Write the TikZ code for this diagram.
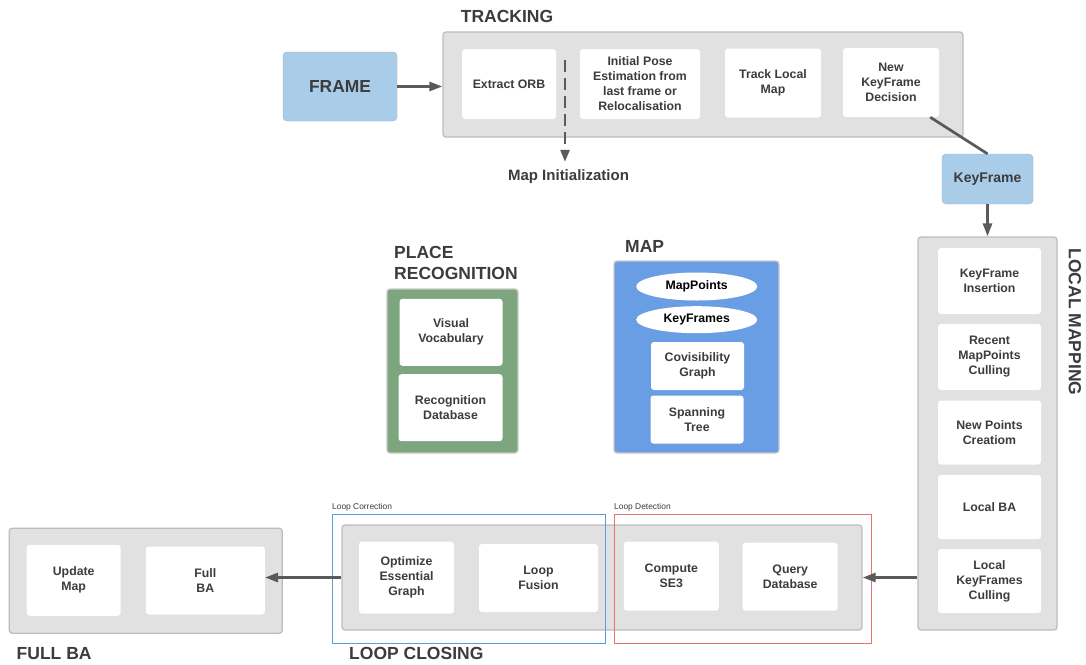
\documentclass[tikz,border=0pt]{standalone}
\usepackage{fontspec}
\setmainfont{Liberation Sans}
\usetikzlibrary{arrows.meta,calc,shapes.geometric}
\definecolor{txt}{HTML}{3C3C3C}
\definecolor{cont}{HTML}{E1E1E1}
\definecolor{contb}{HTML}{BDBDBD}
\definecolor{lblue}{HTML}{A9CCE9}
\definecolor{mapblue}{HTML}{6A9EE4}
\definecolor{pgreen}{HTML}{7DA67F}
\definecolor{arrc}{HTML}{5A5A5A}
\definecolor{corrb}{HTML}{5B9BE0}
\definecolor{detb}{HTML}{E57373}
\begin{document}
\begin{tikzpicture}[x=1pt,y=-1pt,
  container/.style={draw=contb, line width=1.3pt, fill=cont, rounded corners=3pt, inner sep=0},
  inbox/.style={fill=white, rounded corners=3pt, inner sep=0, align=center, text=txt,
    font=\bfseries\fontsize{12.3}{15}\selectfont},
  bluebox/.style={fill=lblue, draw=lblue!90!black, line width=0.4pt, rounded corners=4pt, inner sep=0, text=txt},
  heading/.style={inner sep=0, text=txt, align=left, font=\bfseries\fontsize{17.5}{20.6}\selectfont},
  smalllbl/.style={inner sep=0, text=txt, font=\fontsize{8.4}{10}\selectfont},
  ell/.style={ellipse, fill=white, inner sep=0, text=black, font=\bfseries\fontsize{12.3}{15}\selectfont},
  arr/.style={draw=arrc, line width=2.7pt, -{Triangle[length=13pt,width=9pt]}},
  plainln/.style={draw=arrc, line width=2.7pt},
  dasharr/.style={draw=arrc, line width=2.5pt, dash pattern=on 12pt off 6pt, -{Triangle[length=12pt,width=9pt]}},
  region/.style={line width=1pt, inner sep=0, fill=none}
]
\fill[white] (0,0) rectangle (1086,664);
\useasboundingbox (0,0) rectangle (1086,664);

% ---------- TRACKING ----------
\node[heading] (trkh) at (507,16) {TRACKING};
\node[container, minimum width=520, minimum height=105] (trk) at (703,84.5) {};
\node[inbox, minimum width=94, minimum height=70] (eorb) at (509,84) {Extract ORB};
\node[inbox, minimum width=120, minimum height=70] (ipose) at (640,84) {Initial Pose\\Estimation from\\last frame or\\Relocalisation};
\node[inbox, minimum width=96, minimum height=69] (tlm) at (773,83) {Track Local\\Map};
\node[inbox, minimum width=96, minimum height=69] (nkd) at (891,82.5) {New\\KeyFrame\\Decision};

\node[bluebox, minimum width=114, minimum height=69, font=\bfseries\fontsize{17.4}{20}\selectfont] (frame) at (340,86.5) {FRAME};
\draw[arr] (frame.east) -- (frame.east -| trk.west);

\coordinate (dashstart) at (565,60);
\node[inner sep=0, text=txt, font=\bfseries\fontsize{15}{18}\selectfont] (mapinit) at (568.5,177) {Map Initialization};
\draw[dasharr] (dashstart) -- ($(mapinit.north -| dashstart)+(0,-8)$);

% ---------- KEYFRAME ----------
\node[bluebox, minimum width=91, minimum height=50, font=\bfseries\fontsize{14}{17}\selectfont] (kf) at (987.5,179) {KeyFrame};
\draw[plainln] ($(nkd.south east)+(-9,0)$) -- (kf.north);

% ---------- LOCAL MAPPING ----------
\node[container, minimum width=139, minimum height=393] (lm) at (987.5,433.5) {};
\node[inbox, minimum width=103, minimum height=66] (lm1) at (989.5,281) {KeyFrame\\Insertion};
\node[inbox, minimum width=103, minimum height=66] (lm2) at (989.5,357) {Recent\\MapPoints\\Culling};
\node[inbox, minimum width=103, minimum height=64] (lm3) at (989.5,432.5) {New Points\\Creatiom};
\node[inbox, minimum width=103, minimum height=64] (lm4) at (989.5,507) {Local BA};
\node[inbox, minimum width=103, minimum height=64] (lm5) at (989.5,581) {Local\\KeyFrames\\Culling};
\node[heading, rotate=-90] (lmh) at (1075,322) {LOCAL MAPPING};
\draw[arr] (kf.south) -- (kf.south |- lm.north);

% ---------- PLACE RECOGNITION ----------
\node[heading, anchor=west] (prh) at (394,263) {PLACE\\RECOGNITION};
\node[fill=pgreen, draw=contb!80, line width=1.3pt, rounded corners=3pt, inner sep=0, minimum width=131, minimum height=164] (pr) at (452.5,371) {};
\node[inbox, minimum width=103, minimum height=67] (pr1) at (451,332.3) {Visual\\Vocabulary};
\node[inbox, minimum width=104, minimum height=67] (pr2) at (450.5,407.7) {Recognition\\Database};

% ---------- MAP ----------
\node[heading, anchor=west] (maph) at (625,246) {MAP};
\node[fill=mapblue, draw=contb!80, line width=1.3pt, rounded corners=3pt, inner sep=0, minimum width=165, minimum height=192] (map) at (696.5,357) {};
\node[ell, minimum width=121, minimum height=28] (mp) at (696.7,286.5) {MapPoints};
\node[ell, minimum width=121, minimum height=27] (kfs) at (696.7,319.7) {KeyFrames};
\node[inbox, minimum width=93, minimum height=48] (cov) at (697.5,366) {Covisibility\\Graph};
\node[inbox, minimum width=93, minimum height=48] (span) at (697,419.5) {Spanning\\Tree};

% ---------- LOOP CLOSING ----------
\node[container, minimum width=520, minimum height=105] (lc) at (602,577.5) {};
\node[inbox, minimum width=95, minimum height=72] (oeg) at (406.5,577.5) {Optimize\\Essential\\Graph};
\node[inbox, minimum width=119, minimum height=68] (lf) at (538.5,578) {Loop\\Fusion};
\node[inbox, minimum width=95, minimum height=69] (cse) at (671.3,576.2) {Compute\\SE3};
\node[inbox, minimum width=95, minimum height=68] (qdb) at (790.2,576.7) {Query\\Database};
\node[region, draw=corrb, minimum width=273, minimum height=129] (corr) at (469,578.6) {};
\node[region, draw=detb, minimum width=257, minimum height=129] (det) at (743,578.6) {};
\node[smalllbl, anchor=west] (lcorr) at (332,507) {Loop Correction};
\node[smalllbl, anchor=west] (ldet) at (614,507) {Loop Detection};
\node[heading, anchor=west] (lch) at (349,653) {LOOP CLOSING};
\draw[arr] (lc.east -| lm.west) -- (lc.east);

% ---------- FULL BA ----------
\node[container, minimum width=273, minimum height=105] (fb) at (145.8,580.8) {};
\node[inbox, minimum width=94, minimum height=71] (um) at (73.7,580.3) {Update\\Map};
\node[inbox, minimum width=119, minimum height=68] (fba) at (205.3,580.5) {Full\\BA};
\node[heading, anchor=west] (fbh) at (16.5,654) {FULL BA};
\draw[arr] (lc.west) -- (lc.west -| fba.east);
\end{tikzpicture}
\end{document}
